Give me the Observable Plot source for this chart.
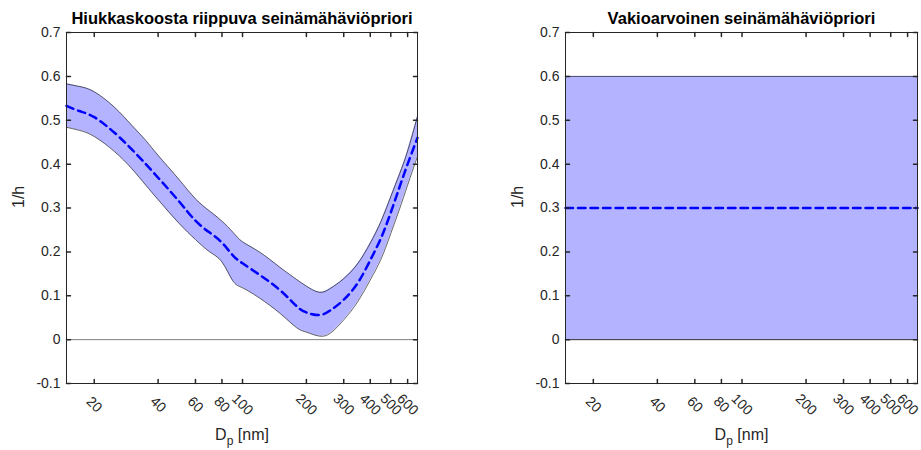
<!DOCTYPE html>
<html>
<head>
<meta charset="utf-8">
<script src="https://cdn.jsdelivr.net/npm/d3@7"></script>
<script src="https://cdn.jsdelivr.net/npm/@observablehq/plot@0.6"></script>
<style>
  body { margin: 0; background: #fff; }
  #chart { position: relative; width: 921px; height: 450px; font-family: "Liberation Sans", Arial, Helvetica, sans-serif; }
  #chart svg { position: absolute; top: 0; }
</style>
</head>
<body>
<div id="chart"></div>
<script>
// Particle diameter grid (nm) for the size-dependent wall-loss prior
const dp = [14.8, 17, 20, 25, 30, 35, 40, 50, 60, 70, 80, 90, 100, 120, 150, 180, 200, 230, 260, 300, 350, 400, 450, 500, 550, 600, 668];
// Prior mean of the wall-loss rate (1/h)
const meanPrior = [0.533, 0.521, 0.507, 0.471, 0.434, 0.400, 0.369, 0.316, 0.271, 0.244, 0.221, 0.192, 0.174, 0.148, 0.113, 0.076, 0.062, 0.056, 0.067, 0.091, 0.130, 0.181, 0.232, 0.290, 0.348, 0.400, 0.460];
// Lower and upper edges of the prior band
const lowerPrior = [0.484, 0.477, 0.463, 0.428, 0.390, 0.352, 0.319, 0.266, 0.228, 0.200, 0.177, 0.134, 0.118, 0.095, 0.060, 0.027, 0.017, 0.008, 0.015, 0.045, 0.087, 0.136, 0.184, 0.242, 0.298, 0.352, 0.418];
const upperPrior = [0.583, 0.577, 0.565, 0.529, 0.489, 0.454, 0.420, 0.366, 0.321, 0.293, 0.270, 0.245, 0.223, 0.200, 0.165, 0.137, 0.122, 0.108, 0.117, 0.139, 0.174, 0.220, 0.270, 0.326, 0.378, 0.430, 0.509];

// Constant prior over the whole size range
const constDp = [14.8, 668];
const constMean = [0.3, 0.3];
const constLower = [0, 0];
const constUpper = [0.6, 0.6];

const xTicks = [20, 40, 60, 80, 100, 200, 300, 400, 500, 600];
const yTicks = [-0.1, 0, 0.1, 0.2, 0.3, 0.4, 0.5, 0.6, 0.7];
const titles = ["Hiukkaskoosta riippuva seinämähäviöpriori", "Vakioarvoinen seinämähäviöpriori"];
const xLabel = "D_p [nm]";
const yLabel = "1/h";

const FONT = '"Liberation Sans", Arial, Helvetica, sans-serif';
const AXIS = "#262626";

// a short straight segment used for the inward tick marks
const tickShape = { draw(ctx, l) { ctx.moveTo(0, 0); ctx.lineTo(0, -l); } };

function panel({ title, x, lo, hi, mid, width, marginLeft, marginRight, smooth }) {
  const rows = x.map((d, i) => ({ d, lo: lo[i], hi: hi[i], mid: mid[i] }));
  const curve = smooth ? "natural" : "linear";
  const svg = Plot.plot({
    width, height: 450,
    marginLeft, marginRight, marginTop: 32, marginBottom: 67,
    style: { fontFamily: FONT, background: "transparent", overflow: "visible" },
    x: { type: "log", domain: [14.8, 668], axis: null },
    y: { domain: [-0.1, 0.7], axis: null },
    marks: [
      Plot.ruleY([0], { stroke: "#808080", strokeWidth: 1 }),
      Plot.areaY(rows, { x: "d", y1: "lo", y2: "hi", fill: "#b3b3ff", curve }),
      Plot.lineY(rows, { x: "d", y: "hi", stroke: "#000", strokeWidth: 0.6, curve }),
      Plot.lineY(rows, { x: "d", y: "lo", stroke: "#000", strokeWidth: 0.6, curve }),
      Plot.lineY(rows, { x: "d", y: "mid", stroke: "#0000ff", strokeWidth: 2.5, strokeDasharray: "7.5,5", curve }),
      Plot.frame({ stroke: AXIS, strokeWidth: 1 }),
      // inward ticks on all four sides of the box
      Plot.vector(xTicks, { x: d => d, frameAnchor: "bottom", length: 4, rotate: 0, anchor: "start", shape: tickShape, stroke: AXIS }),
      Plot.vector(xTicks, { x: d => d, frameAnchor: "top", length: 4, rotate: 180, anchor: "start", shape: tickShape, stroke: AXIS }),
      Plot.vector(yTicks, { y: d => d, frameAnchor: "left", length: 4, rotate: 90, anchor: "start", shape: tickShape, stroke: AXIS }),
      Plot.vector(yTicks, { y: d => d, frameAnchor: "right", length: 4, rotate: -90, anchor: "start", shape: tickShape, stroke: AXIS }),
      // tick labels
      Plot.text(xTicks, { x: d => d, frameAnchor: "bottom", dy: 21, rotate: 45, text: d => String(d), textAnchor: "middle", lineAnchor: "middle", fontSize: 14, fill: AXIS }),
      Plot.text(yTicks, { y: d => d, frameAnchor: "left", dx: -6, text: d => String(d), textAnchor: "end", lineAnchor: "middle", fontSize: 14, fill: AXIS }),
      // axis titles and panel title
      Plot.text([xLabel], { frameAnchor: "bottom", dy: 51, fontSize: 16, fill: AXIS, lineAnchor: "middle" }),
      Plot.text([yLabel], { frameAnchor: "left", dx: -48, rotate: -90, fontSize: 16, fill: AXIS, lineAnchor: "middle" }),
      Plot.text([title], { frameAnchor: "top", dy: -14, fontSize: 16.5, fontWeight: "bold", fill: "#000", lineAnchor: "middle" })
    ]
  });
  // subscript p in the diameter label
  d3.select(svg).selectAll("text").filter(function () { return this.textContent === xLabel; })
    .each(function () {
      const t = d3.select(this);
      t.text(null);
      t.append("tspan").text("D");
      t.append("tspan").attr("dy", 5).attr("font-size", 12).text("p");
      t.append("tspan").attr("dy", -5).text(" [nm]");
    });
  return svg;
}

const chart = document.getElementById("chart");
const left = panel({ title: titles[0], x: dp, lo: lowerPrior, hi: upperPrior, mid: meanPrior, width: 460, marginLeft: 66, marginRight: 43, smooth: true });
left.style.left = "0px";
const right = panel({ title: titles[1], x: constDp, lo: constLower, hi: constUpper, mid: constMean, width: 461, marginLeft: 105, marginRight: 4, smooth: false });
right.style.left = "460px";
chart.append(left, right);
</script>
</body>
</html>
